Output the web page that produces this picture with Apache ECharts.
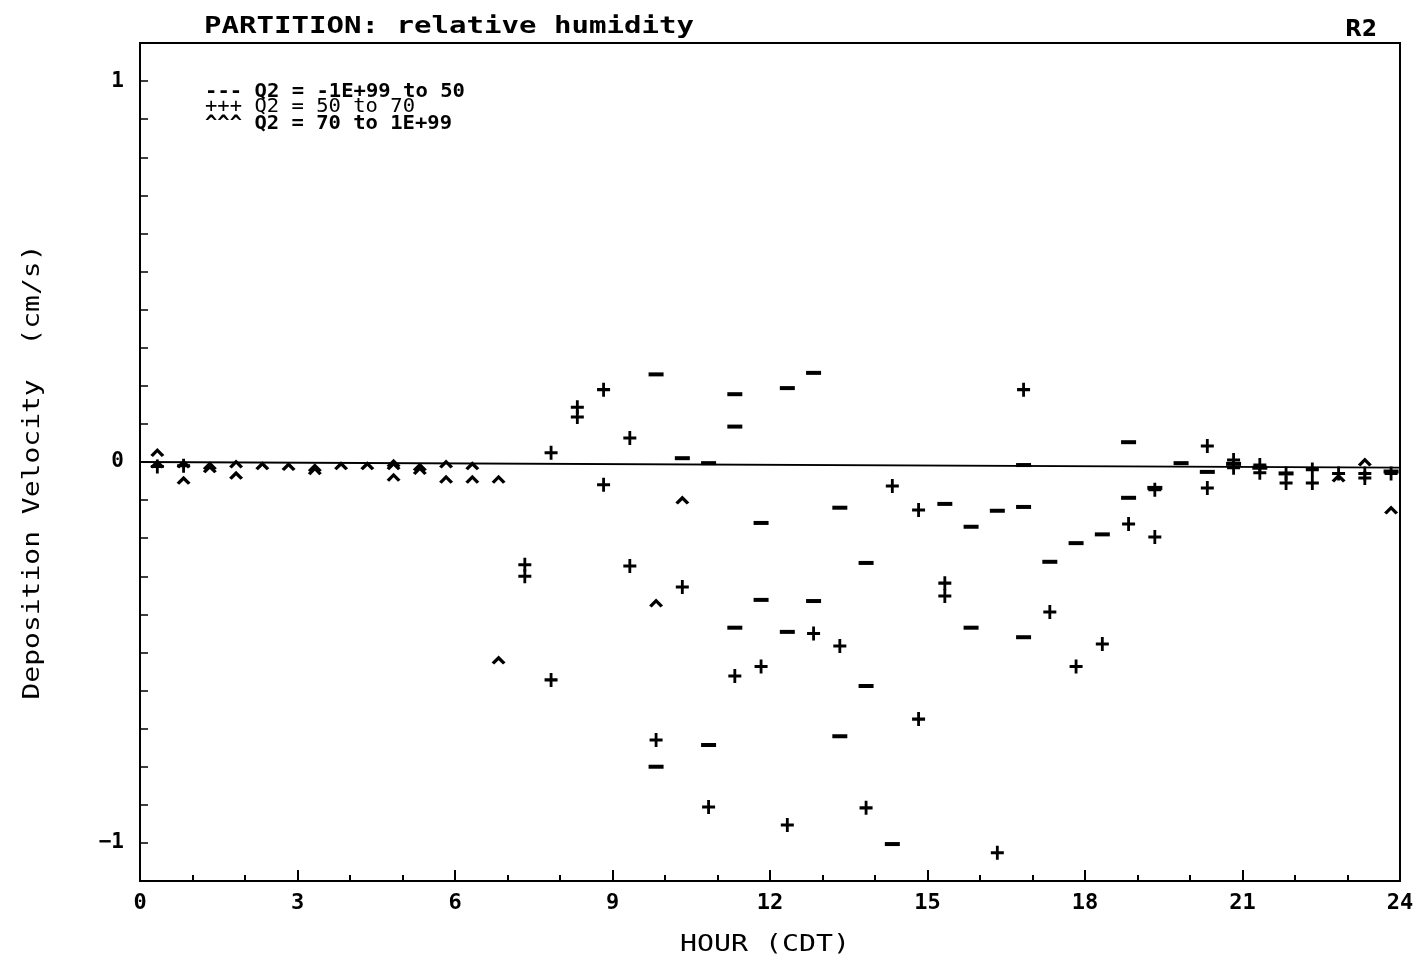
<!DOCTYPE html>
<html><head><meta charset="utf-8">
<script src="https://cdn.jsdelivr.net/npm/echarts@6/dist/echarts.min.js"></script>
<style>html,body{margin:0;padding:0;background:#fff}#c{width:1417px;height:961px}</style>
</head><body><div id="c"></div>
<script>
// ---- data ----
const titleText = 'PARTITION: relative humidity';
const cornerText = 'R2';
const xAxisTitle = 'HOUR (CDT)';
const yAxisTitle = 'Deposition Velocity  (cm/s)';
const legendLines = ['--- Q2 = -1E+99 to 50', '+++ Q2 = 50 to 70', '^^^ Q2 = 70 to 1E+99'];
const seriesNames = ['Q2 = -1E+99 to 50', 'Q2 = 50 to 70', 'Q2 = 70 to 1E+99'];
const hourTickLabels = ['0','3','6','9','12','15','18','21','24'];
const velocityTickLabels = ['\u22121','0','1'];

// Q2 < 50  ("-" marks)
const lowRH = [
  [9.83,0.23],[9.83,-0.80],[10.33,0.01],[10.83,-0.003],[10.83,-0.743],
  [11.33,0.178],[11.33,0.093],[11.33,-0.435],[11.83,-0.16],[11.83,-0.362],
  [12.33,0.194],[12.33,-0.446],[12.83,0.234],[12.83,-0.365],[13.33,-0.12],[13.33,-0.72],
  [13.83,-0.265],[13.83,-0.588],[14.33,-1.003],[15.33,-0.11],[15.83,-0.17],[15.83,-0.435],
  [16.33,-0.128],[16.83,-0.118],[16.83,-0.008],[16.83,-0.46],[17.33,-0.262],[17.83,-0.213],
  [18.33,-0.19],[18.83,0.052],[18.83,-0.094],[19.33,-0.068],[19.83,-0.003],[20.33,-0.026],
  [20.83,-0.005],[21.33,-0.015],[21.83,-0.03],[23.83,-0.025]
];
// 50 <= Q2 < 70  ("+" marks)
const midRH = [
  [0.33,-0.012],[0.83,-0.01],[7.33,-0.27],[7.33,-0.30],[7.83,0.024],[7.83,-0.572],
  [8.33,0.144],[8.33,0.118],[8.83,0.19],[8.83,-0.06],[9.33,0.063],[9.33,-0.273],
  [9.83,-0.73],[10.33,-0.328],[10.83,-0.906],[11.33,-0.562],[11.83,-0.537],[12.33,-0.953],
  [12.83,-0.45],[13.33,-0.483],[13.83,-0.908],[14.33,-0.063],[14.83,-0.126],[14.83,-0.675],
  [15.33,-0.318],[15.33,-0.352],[16.33,-1.026],[16.83,0.19],[17.33,-0.394],[17.83,-0.537],
  [18.33,-0.478],[18.83,-0.163],[19.33,-0.073],[19.33,-0.197],[20.33,0.042],[20.33,-0.068],
  [20.83,0.005],[20.83,-0.015],[21.33,-0.008],[21.33,-0.028],[21.83,-0.03],[21.83,-0.055],
  [22.33,-0.02],[22.33,-0.055],[22.83,-0.03],[23.33,-0.03],[23.33,-0.042],[23.83,-0.03]
];
// Q2 >= 70  ("^" marks)
const highRH = [
  [0.33,0.025],[0.33,-0.005],[0.83,-0.005],[0.83,-0.048],[1.33,-0.01],[1.33,-0.018],
  [1.83,-0.005],[1.83,-0.035],[2.33,-0.01],[2.83,-0.012],[3.33,-0.015],[3.33,-0.023],
  [3.83,-0.01],[4.33,-0.01],[4.83,-0.003],[4.83,-0.01],[4.83,-0.04],[5.33,-0.013],[5.33,-0.022],
  [5.83,-0.005],[5.83,-0.045],[6.33,-0.01],[6.33,-0.045],[6.83,-0.045],[6.83,-0.52],
  [9.83,-0.37],[10.33,-0.10],[22.83,-0.042],[23.33,0.0],[23.83,-0.126]
];
// reference line near zero
const zeroLine = [[0,0],[24,-0.015]];

// ---- drawing ----
const MONO = '"DejaVu Sans Mono", "Liberation Mono", monospace';
const ctx = document.createElement('canvas').getContext('2d');
function fit(text, font, width) { ctx.font = font; return width / ctx.measureText(text).width; }
function txt(text, x, y, font, width, align, extra) {
  const o = {
    type: 'text', x: x, y: y, scaleX: fit(text, font, width),
    style: { text: text, font: font, fill: '#000', textAlign: align, align: align,
             textVerticalAlign: 'middle', verticalAlign: 'middle' }
  };
  return Object.assign(o, extra || {});
}

const PLUS = 'path://M4.7,0h2.6v4.7h4.7v2.6h-4.7v4.7h-2.6v-4.7h-4.7v-2.6h4.7z';
const MINUS = 'path://M0,0H10V3H0Z';
const CARET = 'path://M0,7L7,0L14,7L11.4,9L7,4.6L2.6,9Z';

const fTitle = 'bold 23px ' + MONO;
const fName = '23px ' + MONO;
const fLegB = 'bold 19px ' + MONO;
const fLegN = '19px ' + MONO;

const chart = echarts.init(document.getElementById('c'), null, { renderer: 'canvas' });
chart.setOption({
  backgroundColor: '#fff',
  animation: false,
  grid: { left: 140, right: 17, top: 43, bottom: 80, show: true, borderColor: '#000', borderWidth: 2, containLabel: false },
  xAxis: {
    type: 'value', min: 0, max: 24, interval: 3,
    axisLine: { show: true, onZero: false, lineStyle: { color: '#000', width: 2 } },
    axisTick: { show: true, inside: true, length: 11, lineStyle: { color: '#000', width: 2 } },
    minorTick: { show: true, splitNumber: 3, length: 6, lineStyle: { color: '#000', width: 2 } },
    splitLine: { show: false },
    axisLabel: {
      margin: 11, color: '#000', fontFamily: MONO, fontSize: 22, fontWeight: 'bold',
      formatter: function (v) { const i = Math.round(v / 3); return hourTickLabels[i] !== undefined ? hourTickLabels[i] : ''; }
    }
  },
  yAxis: {
    type: 'value', min: -1.1, max: 1.1, interval: 0.1,
    axisLine: { show: true, onZero: false, lineStyle: { color: '#000', width: 2 } },
    axisTick: { show: true, inside: true, length: 8, lineStyle: { color: '#000', width: 1.5 } },
    splitLine: { show: false },
    axisLabel: {
      margin: 16, color: '#000', fontFamily: MONO, fontSize: 21, fontWeight: 'bold', showMinLabel: true, showMaxLabel: true,
      formatter: function (v) {
        const r = Math.round(v);
        if (Math.abs(v - r) > 1e-6) return '';
        return velocityTickLabels[r + 1] !== undefined ? velocityTickLabels[r + 1] : '';
      }
    }
  },
  series: [
    { type: 'line', data: zeroLine, symbol: 'none', silent: true, z: 1,
      lineStyle: { color: '#000', width: 1.8 } },
    { name: seriesNames[0], type: 'scatter', data: lowRH, symbol: MINUS, symbolSize: [15, 4],
      itemStyle: { color: '#000', opacity: 1 }, z: 3 },
    { name: seriesNames[1], type: 'scatter', data: midRH, symbol: PLUS, symbolSize: [13, 14],
      itemStyle: { color: '#000', opacity: 1 }, z: 3 },
    { name: seriesNames[2], type: 'scatter', data: highRH, symbol: CARET, symbolSize: [14, 9],
      itemStyle: { color: '#000', opacity: 1 }, z: 3 }
  ],
  graphic: [
    txt(titleText, 204, 27, fTitle, 490, 'left'),
    txt(cornerText, 1361, 30, 'bold 23px "DejaVu Sans", sans-serif', 32, 'center'),
    txt(xAxisTitle, 765, 945, fName, 170, 'center'),
    txt(yAxisTitle, 33, 472, fName, 455, 'center', { rotation: Math.PI / 2 }),
    txt(legendLines[0], 205, 92, fLegB, 260, 'left'),
    txt(legendLines[1], 205, 107, fLegN, 210, 'left'),
    txt(legendLines[2], 205, 124, fLegB, 247, 'left')
  ]
});
</script>
</body></html>
